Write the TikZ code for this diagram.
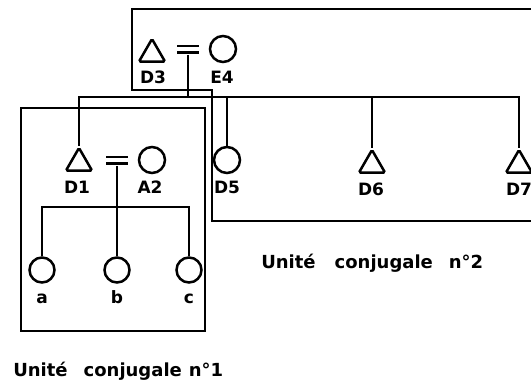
\documentclass[tikz,border=0pt]{standalone}
\usepackage{fontspec}
\setmainfont{DejaVu Sans}
\usetikzlibrary{positioning,shapes.geometric}

\begin{document}
\begin{tikzpicture}[x=1pt, y=-1pt, line width=2.5pt,
  male/.style={draw, regular polygon, regular polygon sides=3,
               minimum size=30pt, inner sep=0pt, rounded corners=1.5pt},
  female/.style={draw, circle, minimum size=26pt, inner sep=0pt},
  wed/.style={minimum width=22pt, minimum height=9pt, inner sep=0pt,
              path picture={
                \draw[line width=2.8pt] ([yshift=-1.4pt]path picture bounding box.north west)
                  -- ([yshift=-1.4pt]path picture bounding box.north east);
                \draw[line width=2.8pt] ([yshift=1.4pt]path picture bounding box.south west)
                  -- ([yshift=1.4pt]path picture bounding box.south east);}},
  lbl/.style={font=\fontsize{17}{17}\selectfont\bfseries, inner sep=0pt, anchor=base},
  unit/.style={font=\fontsize{18}{18}\selectfont\bfseries, inner sep=0pt, anchor=base west}
]
  \useasboundingbox (0,0) rectangle (531,380);

  % unites conjugales
  \draw[line width=2pt] (21,108) rectangle (205,331);
  \draw[line width=2pt] (531,9) -- (132,9) -- (132,90) -- (212,90) -- (212,221) -- (531,221);
  \node[unit] (u1) at (12,376) {Unité\hspace{16pt}conjugale\hspace{7pt}n°1};
  \node[unit] (u2) at (260,268) {Unité\hspace{19pt}conjugale\hspace{16pt}n°2};

  % parents
  \node[male]   (d3) at (152,54) {};
  \node[wed]    (w3) at (188,49) {};
  \node[female] (e4) at (223,49) {};
  \node[lbl] (d3l) at (153,83) {D3};
  \node[lbl] (e4l) at (222,83) {E4};

  % enfants de D3 = E4
  \node[male]   (d1) at (79,163) {};
  \node[wed]    (w1) at (117,160) {};
  \node[female] (a2) at (152,160) {};
  \node[female] (d5) at (227,160) {};
  \node[male]   (d6) at (372,165) {};
  \node[male]   (d7) at (519,165) {};
  \node[lbl] (d1l) at (77,193) {D1};
  \node[lbl] (a2l) at (150,193) {A2};
  \node[lbl] (d5l) at (227,193) {D5};
  \node[lbl] (d6l) at (371,195) {D6};
  \node[lbl] (d7l) at (519,195) {D7};

  \coordinate (sib) at (188,97);
  \draw (w3.south) -- (sib);
  \draw (d1.north) |- (sib) -| (d7.north);
  \draw (sib) -| (d5.north);
  \draw (sib) -| (d6.north);

  % enfants de D1 = A2
  \node[female, minimum size=25pt] (ca) at (42,270) {};
  \node[female, minimum size=25pt] (cb) at (117,270) {};
  \node[female, minimum size=25pt] (cc) at (189,270) {};
  \node[lbl] (cal) at (42,303) {a};
  \node[lbl] (cbl) at (117,303) {b};
  \node[lbl] (ccl) at (189,303) {c};

  \coordinate (sib1) at (117,207);
  \draw (w1.south) -- (sib1);
  \draw (ca.north) |- (sib1) -| (cc.north);
  \draw (sib1) -- (cb.north);
\end{tikzpicture}
\end{document}
